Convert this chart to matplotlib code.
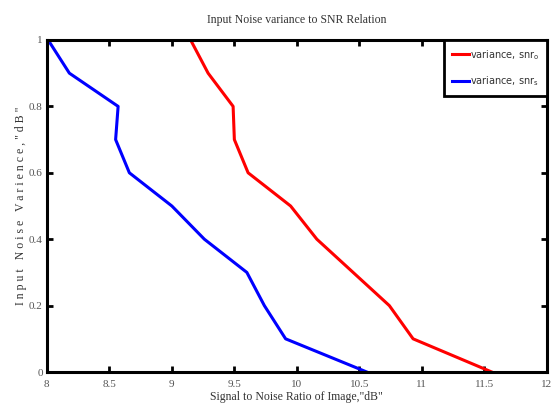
import numpy as np
import matplotlib
matplotlib.use('Agg')
import matplotlib.pyplot as plt

plt.rcParams['font.family'] = 'Liberation Serif'

# noise variance levels (y) and output SNR (x) for both methods
variance = [1.0, 0.9, 0.8, 0.7, 0.6, 0.5, 0.4, 0.3, 0.2, 0.1, 0.0]
snr_o = [9.15, 9.29, 9.49, 9.50, 9.61, 9.95, 10.16, 10.45, 10.74, 10.93, 11.56]
snr_s = [8.01, 8.18, 8.57, 8.55, 8.66, 9.00, 9.26, 9.60, 9.74, 9.91, 10.56]

xticks = [8, 8.5, 9, 9.5, 10, 10.5, 11, 11.5, 12]
xtick_labels = ['8', '8.5', '9', '9.5', '10', '10.5', '11', '11.5', '12']
yticks = [0, 0.2, 0.4, 0.6, 0.8, 1]
ytick_labels = ['0', '0.2', '0.4', '0.6', '0.8', '1']

fig = plt.figure(figsize=(5.58, 4.12), dpi=100)
ax = fig.add_axes([0.084, 0.097, 0.896, 0.806])

ax.plot(snr_o, variance, color='#ff0000', lw=2.2, label='variance, snr$_{\\mathrm{o}}$')
ax.plot(snr_s, variance, color='#0000ff', lw=2.2, label='variance, snr$_{\\mathrm{s}}$')

ax.set_xlim(8, 12)
ax.set_ylim(0, 1)
ax.set_xticks(xticks)
ax.set_xticklabels(xtick_labels)
ax.set_yticks(yticks)
ax.set_yticklabels(ytick_labels)
ax.tick_params(direction='in', length=4, width=2, top=True, right=True,
               labelsize=8, labelcolor='#555555')
ax.tick_params(axis='x', pad=6)
ax.tick_params(axis='y', pad=3)

for sp in ax.spines.values():
    sp.set_linewidth(2.2)

ax.set_title('Input Noise variance to SNR Relation', fontsize=8.5, color='#333333', pad=12)
ax.set_xlabel('Signal to Noise Ratio of Image,"dB"', fontsize=8.5, color='#333333', labelpad=1)
ax.set_ylabel('I n p u t   N o i s e   V a r i e n c e , " d B "', fontsize=8.5, color='#333333', labelpad=1)

leg = ax.legend(loc='upper right', bbox_to_anchor=(1, 1), borderaxespad=0,
                prop={'family': 'DejaVu Sans', 'size': 7}, handlelength=1.8,
                handletextpad=0.05, fancybox=False, edgecolor='black',
                framealpha=1, labelspacing=1.3, borderpad=0.8)
leg.get_frame().set_linewidth(2)
for t in leg.get_texts():
    t.set_color('#333333')

fig.savefig('out.png', dpi=100)
